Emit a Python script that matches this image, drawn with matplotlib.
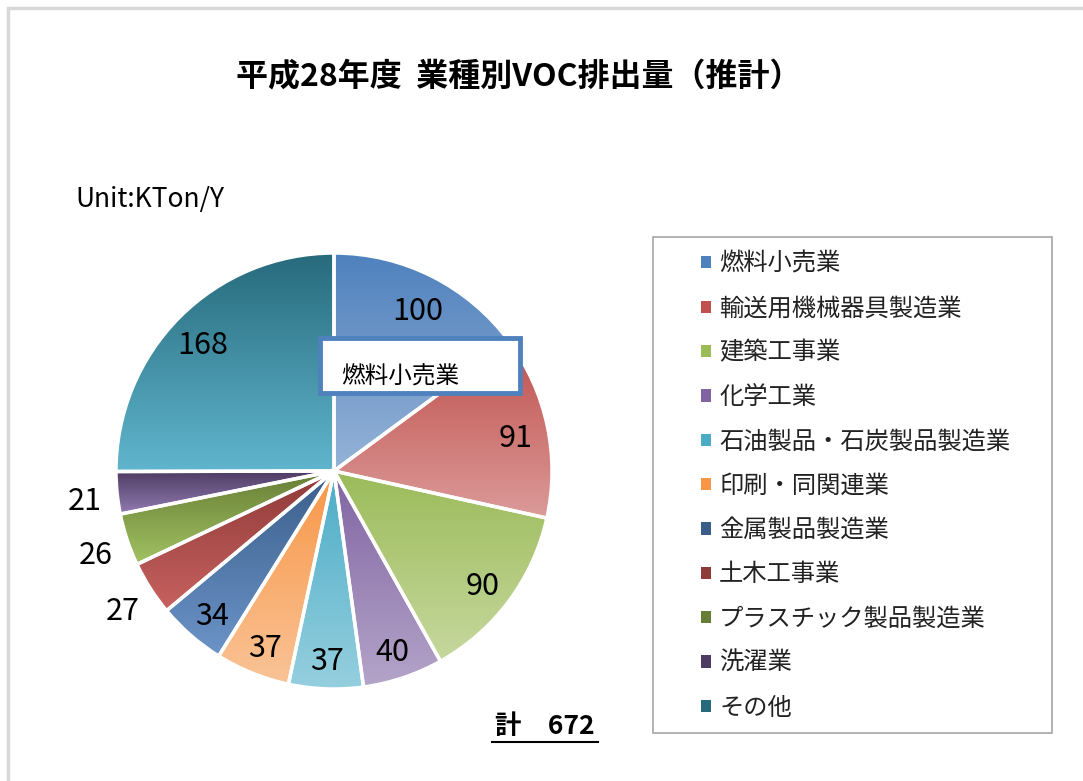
import numpy as np
import matplotlib
matplotlib.use('agg')
import matplotlib.pyplot as plt
from matplotlib.colors import LinearSegmentedColormap
from matplotlib.patches import Patch, Rectangle

plt.rcParams['font.family'] = ['Noto Sans CJK JP', 'DejaVu Sans']

# data
categories = ['燃料小売業', '輸送用機械器具製造業', '建築工事業', '化学工業',
              '石油製品・石炭製品製造業', '印刷・同関連業', '金属製品製造業',
              '土木工事業', 'プラスチック製品製造業', '洗濯業', 'その他']
values = [100, 91, 90, 40, 37, 37, 34, 27, 26, 21, 168]
total_label = '計　672'
title = '平成28年度  業種別VOC排出量（推計）'
unit_label = 'Unit:KTon/Y'

# gradient colours per slice (top, bottom)
top_colors = ['#4F81BD', '#C0504D', '#9BBB59', '#8064A2', '#4BACC6', '#F79646',
              '#3A5E8A', '#8E3A38', '#667D35', '#4D3B62', '#276A7C']
bottom_colors = ['#95B3D7', '#DB9B99', '#C6D89E', '#B4A4C9', '#95CFDF', '#FAC396',
                 '#6C94C8', '#C86260', '#A2C262', '#917BB2', '#60B6CE']

W, H = 1083, 781
fig = plt.figure(figsize=(W / 100, H / 100), dpi=100)

# light outer frame
fig.patches.append(Rectangle((8 / W, -0.1), 1.2, (H - 8) / H + 0.1,
                             transform=fig.transFigure, fill=False,
                             edgecolor='#D9D9D9', linewidth=2.5))

# pie axes: centre at (334, 471) px, radius ~218 px
R = 218
cx, cy = 334, H - 471
half = 250
ax = fig.add_axes([(cx - half) / W, (cy - half) / H, 2 * half / W, 2 * half / H])
wedges, _ = ax.pie(values, startangle=90, counterclock=False, radius=1,
                   wedgeprops=dict(edgecolor='white', linewidth=2.5))

grad = np.linspace(0, 1, 256).reshape(-1, 1)
for w, c0, c1 in zip(wedges, top_colors, bottom_colors):
    v = w.get_path().vertices
    x0, x1 = v[:, 0].min(), v[:, 0].max()
    y0, y1 = v[:, 1].min(), v[:, 1].max()
    cmap = LinearSegmentedColormap.from_list('g', [c0, c1])
    im = ax.imshow(grad, cmap=cmap, extent=[x0, x1, y0, y1], origin='upper',
                   aspect='auto', zorder=1, interpolation='bilinear')
    im.set_clip_path(w)
    w.set_facecolor('none')
    w.set_zorder(2)

# data labels
for w, val in zip(wedges, values):
    mid = np.deg2rad((w.theta1 + w.theta2) / 2)
    r = 1.15 if val < 30 else 0.85
    ax.text(r * np.cos(mid), r * np.sin(mid) - 0.025, str(val), ha='center',
            va='center', fontsize=22, color='black', zorder=5)

lim = half / R
ax.set_xlim(-lim, lim)
ax.set_ylim(-lim, lim)
ax.axis('off')

# title and notes
fig.text(519 / W, 1 - 77 / H, title, ha='center', va='center', fontsize=23,
         fontweight='bold')
fig.text(75 / W, 1 - 200 / H, unit_label, ha='left', va='center', fontsize=19)
fig.text(545 / W, 1 - 727 / H, total_label, ha='center', va='center', fontsize=19,
         fontweight='bold')
fig.add_artist(plt.Line2D([492 / W, 598 / W], [1 - 742 / H, 1 - 742 / H],
                          transform=fig.transFigure, color='black', linewidth=1.5))

# tooltip box
fig.patches.append(Rectangle((320 / W, 1 - 393 / H), 200 / W, 55 / H,
                             transform=fig.transFigure, facecolor='white',
                             edgecolor='#4F81BD', linewidth=3.5, zorder=10))
fig.text(341 / W, 1 - 377 / H, categories[0], ha='left', va='center',
         fontsize=17, zorder=11)

# legend (frame drawn separately, Excel-style fixed box)
fig.patches.append(Rectangle((653 / W, 1 - 733 / H), 399 / W, 496 / H,
                             transform=fig.transFigure, fill=False,
                             edgecolor='#A6A6A6', linewidth=1.2))
handles = [Patch(facecolor=c, edgecolor='none') for c in top_colors]
leg = fig.legend(handles, categories, loc='upper left',
                 bbox_to_anchor=(701 / W, 1 - 251 / H), fontsize=17.5,
                 frameon=False, handlelength=0.4, handleheight=0.4,
                 handletextpad=0.35, labelspacing=0.755, borderpad=0.0,
                 borderaxespad=0)
for t in leg.get_texts():
    t.set_color('#222222')

fig.savefig('out.png', dpi=100)
